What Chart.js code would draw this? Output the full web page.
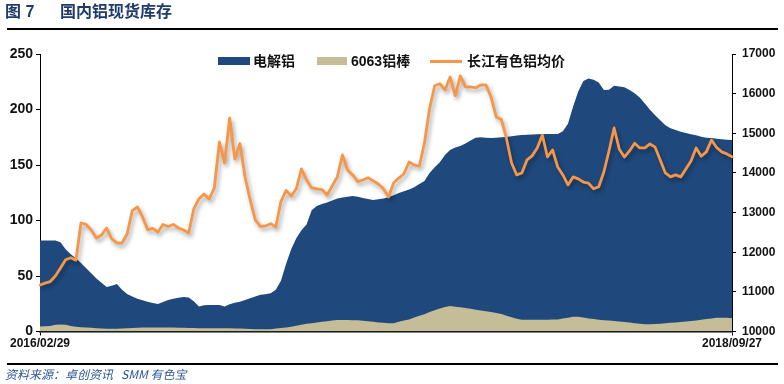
<!DOCTYPE html>
<html>
<head>
<meta charset="utf-8">
<script src="https://cdn.jsdelivr.net/npm/chart.js"></script>
<style>
  html,body{margin:0;padding:0;background:#fff;}
  body{width:784px;height:384px;overflow:hidden;position:relative;font-family:"Liberation Sans","Noto Sans CJK SC",sans-serif;}
  #wrap{position:absolute;left:0;top:0;width:784px;height:384px;}
  .t{position:absolute;top:1px;font-size:16px;font-weight:bold;color:#1F3B6A;line-height:22px;font-family:"Liberation Sans","Noto Sans CJK SC",sans-serif;}
  .rule{position:absolute;left:7px;width:771px;background:#000;}
  .src{position:absolute;left:5px;top:366px;font-size:12px;font-style:italic;color:#2A5795;line-height:16px;font-family:"Noto Sans CJK SC",sans-serif;white-space:pre;}
  .lg{position:absolute;font-size:14px;font-weight:bold;color:#111;line-height:18px;top:52px;font-family:"Liberation Sans","Noto Sans CJK SC",sans-serif;}
  .box{position:absolute;}
</style>
</head>
<body>
<div id="wrap"><canvas id="c" width="784" height="384"></canvas></div>
<div class="t" style="left:5px;">图 7</div>
<div class="t" style="left:60px;">国内铝现货库存</div>
<div class="rule" style="top:28px;height:2px;"></div>
<div class="box" style="left:218px;top:57px;width:32px;height:8px;background:#1F497D;"></div>
<div class="lg" style="left:253px;">电解铝</div>
<div class="box" style="left:317px;top:57px;width:30px;height:8px;background:#C4BD97;"></div>
<div class="lg" style="left:351px;">6063铝棒</div>
<div class="box" style="left:430px;top:60px;width:32px;height:3px;background:#F79646;"></div>
<div class="lg" style="left:467px;">长江有色铝均价</div>
<div class="rule" style="top:363px;height:2px;"></div>
<div class="src">资料来源：卓创资讯   SMM 有色宝</div>
<script>
const categories = [
"2016/02/29","2016/03/07","2016/03/14","2016/03/21","2016/03/28","2016/04/04","2016/04/11","2016/04/18","2016/04/25","2016/05/02",
"2016/05/09","2016/05/16","2016/05/23","2016/05/30","2016/06/06","2016/06/13","2016/06/20","2016/06/27","2016/07/04","2016/07/11",
"2016/07/18","2016/07/25","2016/08/01","2016/08/08","2016/08/15","2016/08/22","2016/08/29","2016/09/05","2016/09/12","2016/09/19",
"2016/09/26","2016/10/03","2016/10/10","2016/10/17","2016/10/24","2016/10/31","2016/11/07","2016/11/14","2016/11/21","2016/11/28",
"2016/12/05","2016/12/12","2016/12/19","2016/12/26","2017/01/02","2017/01/09","2017/01/16","2017/01/23","2017/01/30","2017/02/06",
"2017/02/13","2017/02/20","2017/02/27","2017/03/06","2017/03/13","2017/03/20","2017/03/27","2017/04/03","2017/04/10","2017/04/17",
"2017/04/24","2017/05/01","2017/05/08","2017/05/15","2017/05/22","2017/05/29","2017/06/05","2017/06/12","2017/06/19","2017/06/26",
"2017/07/03","2017/07/10","2017/07/17","2017/07/24","2017/07/31","2017/08/07","2017/08/14","2017/08/21","2017/08/28","2017/09/04",
"2017/09/11","2017/09/18","2017/09/25","2017/10/02","2017/10/09","2017/10/16","2017/10/23","2017/10/30","2017/11/06","2017/11/13",
"2017/11/20","2017/11/27","2017/12/04","2017/12/11","2017/12/18","2017/12/25","2018/01/01","2018/01/08","2018/01/15","2018/01/22",
"2018/01/29","2018/02/05","2018/02/12","2018/02/19","2018/02/26","2018/03/05","2018/03/12","2018/03/19","2018/03/26","2018/04/02",
"2018/04/09","2018/04/16","2018/04/23","2018/04/30","2018/05/07","2018/05/14","2018/05/21","2018/05/28","2018/06/04","2018/06/11",
"2018/06/18","2018/06/25","2018/07/02","2018/07/09","2018/07/16","2018/07/23","2018/07/30","2018/08/06","2018/08/13","2018/08/20",
"2018/08/27","2018/09/03","2018/09/10","2018/09/17","2018/09/24","2018/09/27"
];

const electrolyticAl = [
82, 82, 82, 82, 80.5, 74, 69.6, 66, 61.7, 57,
52.4, 47.8, 43.9, 40.2, 41.3, 42.8, 37.7, 33.8, 31.5, 29.6,
28.2, 26.7, 25.7, 24.8, 26.5, 28.4, 29.6, 30.3, 31, 30.6,
27.3, 22.5, 23.7, 23.9, 23.9, 23.9, 22.6, 24.6, 25.9, 26.9,
28.4, 29.9, 31.6, 33, 33.6, 34.5, 37.6, 45.8, 60.7, 74,
83.9, 91.2, 96.5, 109.2, 113, 114.8, 116.2, 118, 119.8, 120.8,
121.4, 122, 121.3, 120.3, 119.4, 118.5, 119.2, 119.9, 121, 122.8,
124.7, 126.4, 128, 129.9, 132.8, 135.6, 142.8, 147.9, 152.5, 159,
163.5, 165.8, 167.2, 169.4, 172, 174.6, 175, 174.6, 174.3, 174.6,
175, 175.2, 176, 176.5, 177, 177.2, 177.5, 177.8, 177.9, 177.9,
177.9, 177.9, 180.5, 187.2, 202.6, 216.3, 225.7, 228, 226.7, 224.4,
217.5, 217.8, 221.5, 220.8, 220.1, 217.6, 214.6, 210.8, 205.3, 199.8,
194.8, 190.3, 185.8, 183.2, 181.6, 179.9, 178.8, 177.6, 176.7, 175.4,
174.6, 174.3, 173.7, 173.2, 172.8, 172.5
];

const rod6063 = [
4.5, 4.8, 5, 6, 6.4, 6, 5, 4.3, 3.9, 3.7,
3.4, 3, 2.7, 2.5, 2.5, 2.5, 2.6, 2.9, 3.1, 3.4,
3.5, 3.5, 3.5, 3.5, 3.5, 3.5, 3.5, 3.4, 3.3, 3.2,
3.1, 3, 3, 3, 3, 3, 3, 3, 2.8, 2.6,
2.4, 2.2, 2, 2, 2, 2, 2.6, 3.2, 3.7, 4.2,
5.2, 6, 6.9, 7.4, 8.1, 8.7, 9.3, 9.8, 10.3, 10.4,
10.3, 10.2, 10.1, 9.7, 9.2, 8.7, 8.2, 7.8, 7.5, 7.5,
8.8, 9.8, 10.8, 12.6, 14.2, 15.5, 17.5, 19.2, 20.7, 22,
23, 22.4, 21.8, 21.2, 20.5, 19.7, 19, 18.3, 17.5, 16.7,
15.8, 14.3, 12.9, 11.4, 10.5, 10.5, 10.5, 10.5, 10.5, 10.5,
10.7, 10.9, 11.7, 12.5, 13.2, 13.4, 12.6, 11.8, 11.2, 10.6,
10.2, 9.8, 9.4, 9, 8.5, 8, 7.5, 7, 6.6, 6.6,
6.8, 7, 7.4, 7.8, 8.1, 8.5, 9, 9.5, 10, 10.6,
11.2, 11.8, 12.3, 12.5, 12.3, 12
];

const changjiangPrice = [
11173, 11220, 11260, 11400, 11600, 11810, 11860, 11800, 12737, 12700,
12560, 12360, 12435, 12611, 12334, 12233, 12233, 12460, 13050, 13141,
12889, 12570, 12600, 12510, 12700, 12650, 12700, 12611, 12560, 12485,
13090, 13343, 13470, 13343, 13620, 14780, 14251, 15380, 14352, 14743,
13898, 13318, 12813, 12650, 12662, 12720, 12637, 13277, 13560, 13420,
13600, 14100, 13822, 13621, 13600, 13580, 13444, 13671, 13900, 14453,
14075, 13949, 13780, 13822, 13880, 13800, 13720, 13600, 13393, 13750,
13870, 13980, 14276, 14200, 14170, 14756, 15620, 16200, 16250, 16093,
16421, 15950, 16450, 16169, 16169, 16150, 16220, 16220, 15917, 15412,
15350, 14870, 14250, 13950, 13999, 14327, 14430, 14630, 14958, 14403,
14579, 14150, 13950, 13696, 13900, 13850, 13770, 13740, 13600, 13650,
14024, 14554, 15134, 14605, 14400, 14554, 14750, 14630, 14630, 14731,
14650, 14327, 14000, 13900, 13950, 13900, 14100, 14300, 14630, 14420,
14530, 14830, 14640, 14530, 14480, 14410
];

const leftTicks = [0, 50, 100, 150, 200, 250];
const rightTicks = [10000, 11000, 12000, 13000, 14000, 15000, 16000, 17000];
const seriesNames = ["电解铝", "6063铝棒", "长江有色铝均价"];

const shadowPlugin = {
  id: 'lineShadow',
  beforeDatasetDraw(chart, args) {
    if (args.index === 2) {
      const c = chart.ctx;
      c.save();
      c.shadowColor = 'rgba(0,0,0,0.35)';
      c.shadowBlur = 4;
      c.shadowOffsetX = 2;
      c.shadowOffsetY = 3;
    }
  },
  afterDatasetDraw(chart, args) {
    if (args.index === 2) chart.ctx.restore();
  }
};

const tickFontL = { family: '"Liberation Sans", Arial, sans-serif', size: 14, weight: 'bold' };
const tickFontR = { family: '"Liberation Sans", Arial, sans-serif', size: 12, weight: 'bold' };

new Chart(document.getElementById('c'), {
  type: 'line',
  data: {
    labels: categories,
    datasets: [
      { label: seriesNames[0], data: electrolyticAl, yAxisID: 'yL', fill: 'origin',
        backgroundColor: '#1F497D', borderColor: '#1F497D', borderWidth: 0, pointRadius: 0, tension: 0, order: 3 },
      { label: seriesNames[1], data: rod6063, yAxisID: 'yL', fill: 'origin',
        backgroundColor: '#C4BD97', borderColor: '#C4BD97', borderWidth: 0, pointRadius: 0, tension: 0, order: 2 },
      { label: seriesNames[2], data: changjiangPrice, yAxisID: 'yR', fill: false,
        borderColor: '#F79646', backgroundColor: '#F79646', borderWidth: 2.8, pointRadius: 0, tension: 0, order: 1,
        borderJoinStyle: 'round', borderCapStyle: 'round' }
    ]
  },
  options: {
    responsive: false,
    animation: false,
    devicePixelRatio: 1,
    layout: { padding: { top: 54, bottom: 32.5, left: 0, right: 0 } },
    plugins: { legend: { display: false }, tooltip: { enabled: false } },
    scales: {
      x: {
        type: 'category',
        offset: false,
        afterFit: s => { s.height = 20; },
        afterBuildTicks: s => { const t = s.ticks; s.ticks = [t[0], t[t.length - 1]]; },
        ticks: { autoSkip: false, maxRotation: 0, minRotation: 0, padding: 1, color: '#111', font: tickFontR,
                 callback: function(v) { return this.getLabelForValue(v); } },
        grid: { display: true, drawOnChartArea: false, drawTicks: true, tickLength: 4, color: '#000' },
        border: { display: true, color: '#000', width: 1.5 }
      },
      yL: {
        position: 'left',
        min: leftTicks[0], max: leftTicks[leftTicks.length - 1],
        afterFit: s => { s.width = 40; },
        afterBuildTicks: s => { s.ticks = leftTicks.map(v => ({ value: v })); },
        ticks: { padding: 3, color: '#111', font: tickFontL, callback: v => String(v) },
        grid: { display: true, drawOnChartArea: false, drawTicks: true, tickLength: 4, color: '#000' },
        border: { display: true, color: '#000', width: 1 }
      },
      yR: {
        position: 'right',
        min: rightTicks[0], max: rightTicks[rightTicks.length - 1],
        afterFit: s => { s.width = 52; },
        afterBuildTicks: s => { s.ticks = rightTicks.map(v => ({ value: v })); },
        ticks: { padding: 6, color: '#111', font: tickFontR, callback: v => String(v) },
        grid: { display: true, drawOnChartArea: false, drawTicks: true, tickLength: 4, color: '#000' },
        border: { display: true, color: '#000', width: 1 }
      }
    }
  },
  plugins: [shadowPlugin]
});
</script>
</body>
</html>
